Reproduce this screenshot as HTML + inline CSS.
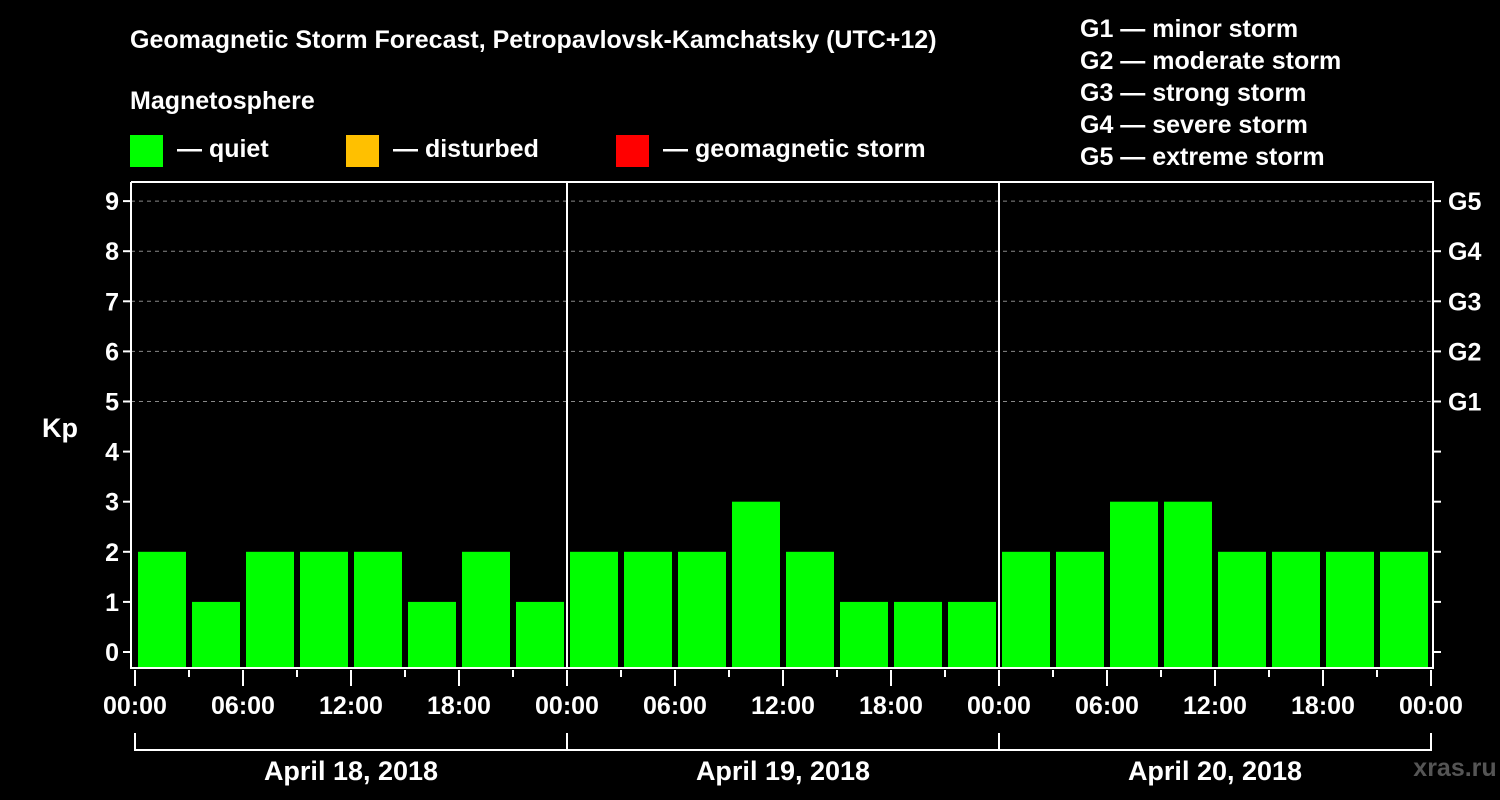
<!DOCTYPE html>
<html><head><meta charset="utf-8"><style>
body{margin:0;background:#000;}
svg{display:block;font-family:"Liberation Sans",Arial,sans-serif;font-weight:bold;}
</style></head><body>
<svg id="c" width="1500" height="800" viewBox="0 0 1500 800">
<rect width="1500" height="800" fill="#000"/>
<text x="130" y="48" fill="#fff" font-size="25">Geomagnetic Storm Forecast, Petropavlovsk-Kamchatsky (UTC+12)</text>
<text x="130" y="109" fill="#fff" font-size="25">Magnetosphere</text>
<g><rect x="130" y="135" width="33" height="32" fill="#00ff00"/><text x="177" y="157" fill="#fff" font-size="25">— quiet</text></g>
<g><rect x="346" y="135" width="33" height="32" fill="#ffc000"/><text x="393" y="157" fill="#fff" font-size="25">— disturbed</text></g>
<g><rect x="616" y="135" width="33" height="32" fill="#ff0000"/><text x="663" y="157" fill="#fff" font-size="25">— geomagnetic storm</text></g>
<g fill="#fff" font-size="25">
<text x="1080" y="37">G1 — minor storm</text>
<text x="1080" y="69">G2 — moderate storm</text>
<text x="1080" y="101">G3 — strong storm</text>
<text x="1080" y="133">G4 — severe storm</text>
<text x="1080" y="165">G5 — extreme storm</text>
</g>
<text x="42" y="437" fill="#fff" font-size="27">Kp</text>
<g id="grid"></g><g id="bars"></g><g id="axes"></g>
<text x="1455" y="776" fill="#555" font-size="25" text-anchor="middle">xras.ru</text>
</svg>
<script>
const days = ["April 18, 2018","April 19, 2018","April 20, 2018"];
const kpValues = [2,1,2,2,2,1,2,1, 2,2,2,3,2,1,1,1, 2,2,3,3,2,2,2,2];
const yTicks = [0,1,2,3,4,5,6,7,8,9];
const gLabels = ["G1","G2","G3","G4","G5"];
const gLevels = [5,6,7,8,9];
const hourLabels = ["00:00","06:00","12:00","18:00"];

const NS="http://www.w3.org/2000/svg";
const X0=135, DAYW=432, Y0=652, UNIT=50.1, BOTTOM=668, TOP=182, LEFT=131, RIGHT=1433;
const x = h => X0 + h/24*DAYW;
const y = v => Y0 - v*UNIT;
function mk(tag, attrs, parent, txt){const e=document.createElementNS(NS,tag);for(const k in attrs)e.setAttribute(k,attrs[k]);if(txt!==undefined)e.textContent=txt;document.getElementById(parent).appendChild(e);return e;}
function color(v){return v>=5?"#ff0000":v>=4?"#ffc000":"#00ff00";}

// grid
gLevels.forEach(g=>{const l=mk("line",{x1:LEFT,x2:RIGHT,y1:y(g),y2:y(g),stroke:"#888","stroke-dasharray":"4,4","stroke-width":1},"grid");

});
// bars
kpValues.forEach((v,i)=>{const x1=x(i*3)+3,x2=x(i*3+3)-3;
const r=mk("rect",{x:x1,y:y(v),width:x2-x1,height:BOTTOM-y(v),fill:color(v)},"bars");

});
// frame
const f=mk("path",{d:`M${LEFT} ${TOP}V${BOTTOM}H${RIGHT}V${TOP}H${LEFT}`,stroke:"#fff","stroke-width":2,fill:"none"},"axes");


for(let d=1;d<days.length;d++){const l=mk("line",{x1:x(d*24),x2:x(d*24),y1:TOP,y2:BOTTOM,stroke:"#fff","stroke-width":2},"axes");

}
// y ticks
yTicks.forEach(t=>{mk("line",{x1:LEFT-8,x2:LEFT,y1:y(t),y2:y(t),stroke:"#fff","stroke-width":2},"axes");
mk("line",{x1:RIGHT,x2:RIGHT+8,y1:y(t),y2:y(t),stroke:"#fff","stroke-width":2},"axes");
const tx=mk("text",{x:LEFT-12,y:y(t)+9,fill:"#fff","font-size":25,"text-anchor":"end"},"axes",String(t));

});
gLevels.forEach((g,i)=>{const tx=mk("text",{x:RIGHT+15,y:y(g)+9,fill:"#fff","font-size":25},"axes",gLabels[i]);

});
// x ticks
for(let h=0;h<=days.length*24;h+=3){const major=h%6===0;
mk("line",{x1:x(h),x2:x(h),y1:BOTTOM+2,y2:BOTTOM+(major?18:9),stroke:"#fff","stroke-width":2},"axes");
if(major){const lab=hourLabels[(h/6)%4];
const tx=mk("text",{x:x(h),y:714,fill:"#fff","font-size":25,"text-anchor":"middle"},"axes",lab);

}}
// day brackets
days.forEach((d,i)=>{const a=x(i*24),b=x(i*24+24);
mk("path",{d:`M${a} 733V750H${b}V733`,stroke:"#fff","stroke-width":2,fill:"none"},"axes");
const tx=mk("text",{x:(a+b)/2,y:780,fill:"#fff","font-size":27,"text-anchor":"middle"},"axes",d);

});
</script>
</body></html>
